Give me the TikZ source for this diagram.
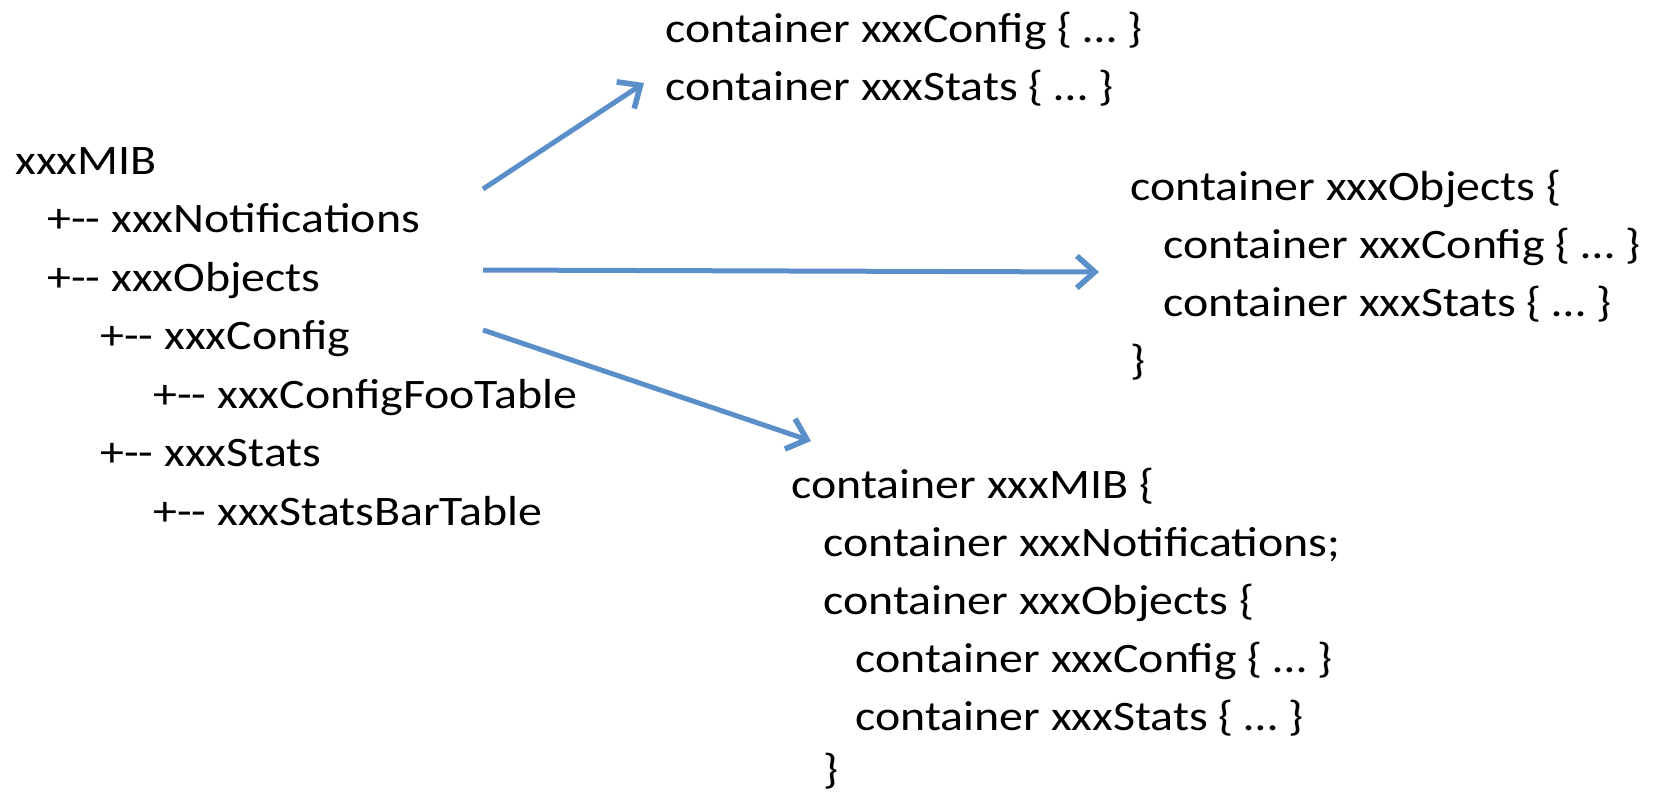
\documentclass[tikz,border=0pt]{standalone}
\usepackage{fontspec}
\setmainfont{Carlito}[FakeStretch=1.14]
\usetikzlibrary{arrows.meta}
\definecolor{arrowblue}{HTML}{5B8FCA}
\begin{document}
\begin{tikzpicture}[x=0.5pt,y=-0.5pt,
  txt/.style={anchor=base west,inner sep=0pt,font=\fontsize{21pt}{25pt}\selectfont},
  conn/.style={draw=arrowblue,line width=2.5pt,-{Straight Barb[length=9pt,width=16pt,line width=2.8pt]}}]
\useasboundingbox (0,0) rectangle (1653,793);
% left tree
\node[txt] (mib) at (15,174) {xxxMIB};
\node[txt] (notif) at (47,232.5) {+-{}- xxxNotifications};
\node[txt] (obj) at (47,291) {+-{}- xxxObjects};
\node[txt] (cfg) at (100,349.5) {+-{}- xxxConfig};
\node[txt] (cfgfoo) at (153,408) {+-{}- xxxConfigFooTable};
\node[txt] (stats) at (100,466.5) {+-{}- xxxStats};
\node[txt] (statsbar) at (153,525) {+-{}- xxxStatsBarTable};
% top right
\node[txt] (t1) at (665,42) {container xxxConfig \{ … \}};
\node[txt] (t2) at (665,100) {container xxxStats \{ … \}};
% middle right
\node[txt] (m1) at (1130,200) {container xxxObjects \{};
\node[txt] (m2) at (1163,258) {container xxxConfig \{ … \}};
\node[txt] (m3) at (1163,316) {container xxxStats \{ … \}};
\node[txt] (m4) at (1130,374) {\}};
% bottom
\node[txt] (b1) at (791,498) {container xxxMIB \{};
\node[txt] (b2) at (823,556) {container xxxNotifications;};
\node[txt] (b3) at (823,614) {container xxxObjects \{};
\node[txt] (b4) at (855,672) {container xxxConfig \{ … \}};
\node[txt] (b5) at (855,730) {container xxxStats \{ … \}};
\node[txt] (b6) at (823,783) {\}};
% arrow ends
\coordinate (a1s) at (483,189);
\coordinate (a1e) at (644,83);
\coordinate (a2s) at (483,270);
\coordinate (a2e) at (1099,272);
\coordinate (a3s) at (483,330);
\coordinate (a3e) at (811,441);
\draw[conn] (a1s) -- (a1e);
\draw[conn] (a2s) -- (a2e);
\draw[conn] (a3s) -- (a3e);
\end{tikzpicture}
\end{document}
